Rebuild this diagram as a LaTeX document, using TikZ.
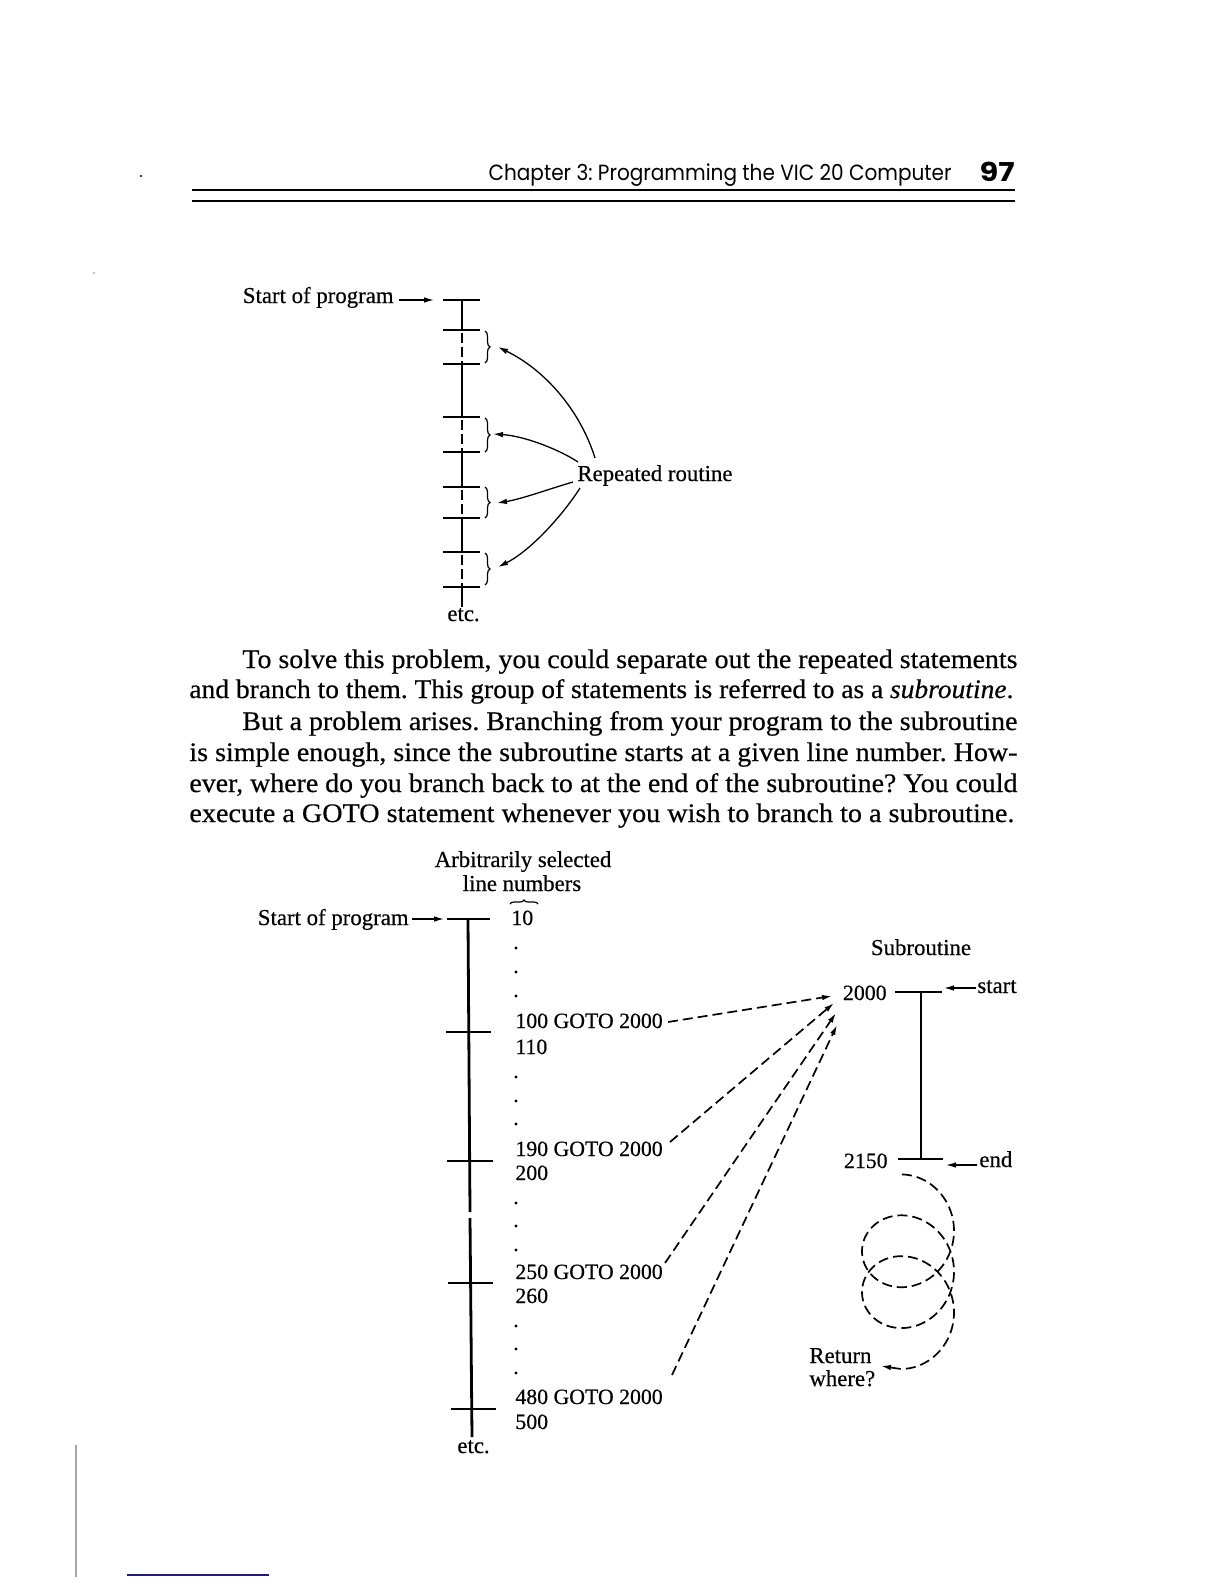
\documentclass[tikz,border=0pt]{standalone}
\usepackage{graphicx}
\usepackage{fontspec}
\setmainfont{Liberation Serif}[FakeBold=0.45]
\newfontfamily\hdrfont{Poppins}
\usetikzlibrary{arrows.meta,decorations.pathreplacing}
\definecolor{navyline}{RGB}{30,30,120}
\newcommand\pline[2]{\resizebox{#1}{\height}{\hbox{#2}}}
\frenchspacing
\begin{document}
\begin{tikzpicture}[x=0.5pt,y=-0.5pt,
  lbl/.style={font=\fontsize{11.4}{13}\selectfont, inner sep=0pt},
  code/.style={font=\fontsize{10.9}{13}\selectfont, inner sep=0pt, anchor=base west},
  para/.style={font=\fontsize{13.4}{15}\selectfont, inner sep=0pt, anchor=base west},
  bar/.style={line width=1.4pt},
  dsh/.style={line width=1.4pt, dash pattern=on 5pt off 2pt},
  arr/.style={line width=0.65pt, -{Latex[length=5pt,width=2.8pt]}},
  darr/.style={line width=0.85pt, dash pattern=on 5pt off 2.5pt, -{Latex[length=5pt,width=2.8pt]}},
  brc/.style={decorate, decoration={brace, amplitude=2.5pt}, line width=0.6pt},
  pdot/.style={circle, fill, inner sep=0pt, minimum size=1.6pt},
]
\useasboundingbox[fill=white] (0,0) rectangle (1224,1584);

% ---------- header ----------
\node[anchor=base east, inner sep=0pt, font=\hdrfont\fontsize{11}{13}\selectfont] (hdr) at (952,181)
  {\resizebox{231.5pt}{\height}{Chapter 3: Programming the VIC 20 Computer}};
\node[anchor=base east, inner sep=0pt, font=\hdrfont\bfseries\fontsize{13}{15}\selectfont] (pgno) at (1015,181)
  {\resizebox{17.5pt}{\height}{97}};
\draw[line width=1.2pt] (192,190) -- (1015,190);
\draw[line width=0.7pt] (192,201) -- (1015,201);
\node[pdot, minimum size=1.2pt] (spk1) at (141,176) {};
\node[pdot, minimum size=0.8pt, fill=gray] (spk2) at (94,273) {};

% ---------- diagram 1 ----------
\foreach \y in {300,330,364,417,452,487,518,552,587} \draw[bar] (443,\y) -- (480,\y);
\draw[bar] (462,300) -- (462,330);
\draw[bar] (462,364) -- (462,417);
\draw[bar] (462,452) -- (462,487);
\draw[bar] (462,518) -- (462,552);
\draw[bar] (462,587) -- (462,607);
\draw[dsh] (462,333) -- (462,364);
\draw[dsh] (462,420) -- (462,452);
\draw[dsh] (462,490) -- (462,518);
\draw[dsh] (462,555) -- (462,587);
\draw[brc] (485,331) -- (485,363);
\draw[brc] (485,418) -- (485,452);
\draw[brc] (485,487) -- (485,518);
\draw[brc] (485,553) -- (485,585);

\node[lbl, anchor=base east] (sp1) at (394,303) {Start of program};
\coordinate (sp1a) at (399,300);
\coordinate (sp1b) at (434,300);
\draw[arr] (sp1a) -- (sp1b);

\node[lbl, anchor=base west] (rr) at (577,481) {Repeated routine};
\coordinate (c1) at (595,458); \coordinate (b1) at (498,347);
\coordinate (c2) at (578,462); \coordinate (b2) at (493,434);
\coordinate (c3) at (573,482); \coordinate (b3) at (497,503);
\coordinate (c4) at (580,488); \coordinate (b4) at (498,567);
\draw[arr] (c1) .. controls (580,410) and (545,370) .. (b1);
\draw[arr] (c2) .. controls (560,450) and (525,436) .. (b2);
\draw[arr] (c3) .. controls (552,488) and (522,499) .. (b3);
\draw[arr] (c4) .. controls (565,512) and (532,550) .. (b4);
\node[lbl, anchor=base west] (etc1) at (447,621) {etc.};

% ---------- paragraph ----------
\node[para] (p1) at (242,668) {\pline{387.5pt}{To solve this problem, you could separate out the repeated statements}};
\node[para] (p2) at (189,698) {\pline{412pt}{and branch to them. This group of statements is referred to as a \textit{subroutine}.}};
\node[para] (p3) at (242,730) {\pline{387.5pt}{But a problem arises. Branching from your program to the subroutine}};
\node[para] (p4) at (189,761) {\pline{414pt}{is simple enough, since the subroutine starts at a given line number. How-}};
\node[para] (p5) at (189,792) {\pline{414pt}{ever, where do you branch back to at the end of the subroutine? You could}};
\node[para] (p6) at (189,822) {\pline{412.5pt}{execute a GOTO statement whenever you wish to branch to a subroutine.}};

% ---------- diagram 2 ----------
\node[lbl, anchor=base] (arb) at (523,867) {Arbitrarily selected};
\node[lbl, anchor=base] (lnn) at (522,891) {line numbers};
\draw[brc, decoration={brace, amplitude=2pt}] (510,904) -- (538,904);

\node[lbl, anchor=base east] (sp2) at (409,925) {Start of program};
\coordinate (sp2a) at (412,919);
\coordinate (sp2b) at (444,919);
\draw[arr] (sp2a) -- (sp2b);

\draw[bar] (447,919) -- (490,919);
\draw[bar] (446,1032) -- (491,1032);
\draw[bar] (447,1161) -- (493,1161);
\draw[bar] (448,1283) -- (493,1283);
\draw[bar] (451,1409) -- (496,1409);
\draw[bar] (468,919) -- (470,1212);
\draw[bar] (470,1218) -- (472,1437);
\node[lbl, anchor=base west] (etc2) at (457,1453) {etc.};

\node[code] (l10) at (511,925) {10};
\foreach \y [count=\i] in {948,972,996,1077,1101,1124,1203,1226,1250,1326,1349,1373}
  \node[pdot] (dt\i) at (516,\y) {};
\node[code] (g100) at (515,1028) {100 GOTO 2000};
\node[code] (l110) at (515,1054) {110};
\node[code] (g190) at (515,1156) {190 GOTO 2000};
\node[code] (l200) at (515,1180) {200};
\node[code] (g250) at (515,1279) {250 GOTO 2000};
\node[code] (l260) at (515,1303) {260};
\node[code] (g480) at (515,1404) {480 GOTO 2000};
\node[code] (l500) at (515,1429) {500};

% subroutine
\node[lbl, anchor=base] (subr) at (921,955) {Subroutine};
\node[code, anchor=base east] (s2000) at (887,1000) {2000};
\node[code, anchor=base east] (s2150) at (888,1168) {2150};
\draw[bar] (895,992) -- (942,992);
\draw[bar] (921,992) -- (921,1159);
\draw[bar] (898,1159) -- (943,1159);
\node[lbl, anchor=base west] (stt) at (977,993) {start};
\node[lbl, anchor=base west] (endl) at (979,1167) {end};
\coordinate (sta) at (976,988); \coordinate (stb) at (944,988);
\coordinate (ena) at (977,1165); \coordinate (enb) at (946,1165);
\draw[arr] (sta) -- (stb);
\draw[arr] (ena) -- (enb);

% GOTO arrows
\coordinate (s1) at (668,1022); \coordinate (e1) at (832,996);
\coordinate (s2) at (670,1142); \coordinate (e2) at (834,1003);
\coordinate (s3) at (665,1263); \coordinate (e3) at (836,1013);
\coordinate (s4) at (672,1375); \coordinate (e4) at (837,1025);
\draw[darr] (s1) -- (e1);
\draw[darr] (s2) -- (e2);
\draw[darr] (s3) -- (e3);
\draw[darr] (s4) -- (e4);

% return coil
\coordinate (rtip) at (881,1366);
\draw[darr] plot[domain=4.58:20.6, samples=400, smooth] ({908+46*cos(\x r)}, {1190+6.5*\x+45.7*sin(\x r)}) -- (rtip);
\node[lbl, anchor=base west] (ret1) at (809,1363) {Return};
\node[lbl, anchor=base west] (ret2) at (809,1386) {where?};

% margin marks
\draw[gray!70, line width=0.7pt] (76,1445) -- (76,1577);
\draw[navyline, line width=1pt] (127,1575) -- (269,1575);
\end{tikzpicture}
\end{document}
